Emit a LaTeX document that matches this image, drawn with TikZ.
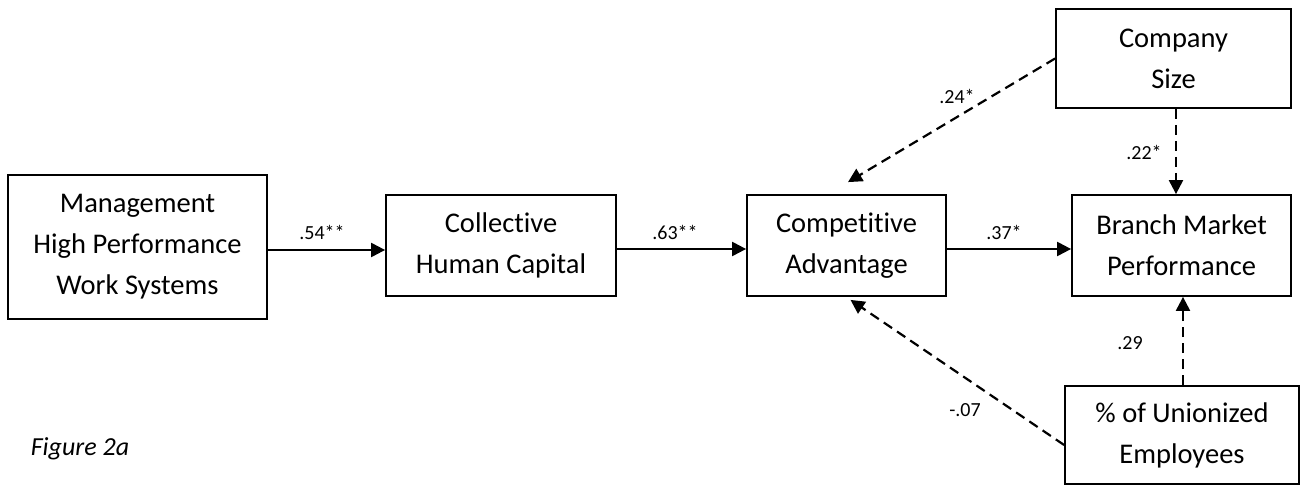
\documentclass[tikz,border=0pt]{standalone}
\usepackage{fontspec}
\setmainfont{Carlito}[Ligatures={NoCommon}]
\usetikzlibrary{arrows.meta}
\begin{document}
\begin{tikzpicture}[x=1pt,y=-1pt,
 box/.style={draw, line width=1.8pt, align=center, inner sep=0pt, font=\fontsize{28.5}{41}\selectfont},
 lbl/.style={font=\fontsize{20}{24}\selectfont, inner sep=0pt},
 solidarr/.style={line width=2.2pt, -{Triangle[length=14pt,width=14pt]}},
 dasharr/.style={line width=2.2pt, dash pattern=on 10pt off 6pt, -{Triangle[length=14pt,width=14pt]}}]
\useasboundingbox (0,0) rectangle (1307,486);
\node[box, minimum width=259pt, minimum height=144pt] (mgmt) at (137.5,247) {Management\\High Performance\\Work Systems};
\node[box, minimum width=230pt, minimum height=101pt] (chc) at (501,245.5) {Collective\\Human Capital};
\node[box, minimum width=199pt, minimum height=101pt] (ca) at (846.5,245.5) {Competitive\\Advantage};
\node[box, minimum width=219pt, minimum height=101pt] (bmp) at (1181.5,245.5) {Branch Market\\Performance};
\node[box, minimum width=235pt, minimum height=99pt] (cs) at (1173.5,58.5) {Company\\Size};
\node[box, minimum width=234pt, minimum height=98pt] (un) at (1182,435) {\% of Unionized\\Employees};
% solid arrows
\draw[solidarr] ([yshift=-3pt]mgmt.east) -- ([yshift=-3pt]mgmt.east -| chc.west);
\draw[solidarr] ([yshift=-3.5pt]chc.east) -- ([yshift=-3.5pt]ca.west);
\draw[solidarr] ([yshift=-3.5pt]ca.east) -- ([yshift=-3.5pt]bmp.west);
% dashed arrows
\draw[dasharr] (cs.west) -- ([xshift=1.5pt,yshift=12pt]ca.north);
\draw[dasharr] ([xshift=2.5pt]cs.south) -- ([xshift=2.5pt]cs.south |- bmp.north);
\draw[dasharr] ([xshift=1pt]un.north) -- ([xshift=1pt]un.north |- bmp.south);
\draw[dasharr] ([yshift=-10pt]un.west) -- ([xshift=4pt,yshift=-3pt]ca.south);
% labels
\node[lbl] (l1) at (322,232) {.54**};
\node[lbl] (l2) at (675,232) {.63**};
\node[lbl] (l3) at (1004,232) {.37*};
\node[lbl] (l4) at (957,96) {.24*};
\node[lbl] (l5) at (1144,152) {.22*};
\node[lbl] (l6) at (1130,343) {.29};
\node[lbl] (l7) at (965,410) {-.07};
\node[font=\fontsize{26}{30}\selectfont\itshape, inner sep=0pt] (fig) at (80,449) {Figure 2a};
\end{tikzpicture}
\end{document}
